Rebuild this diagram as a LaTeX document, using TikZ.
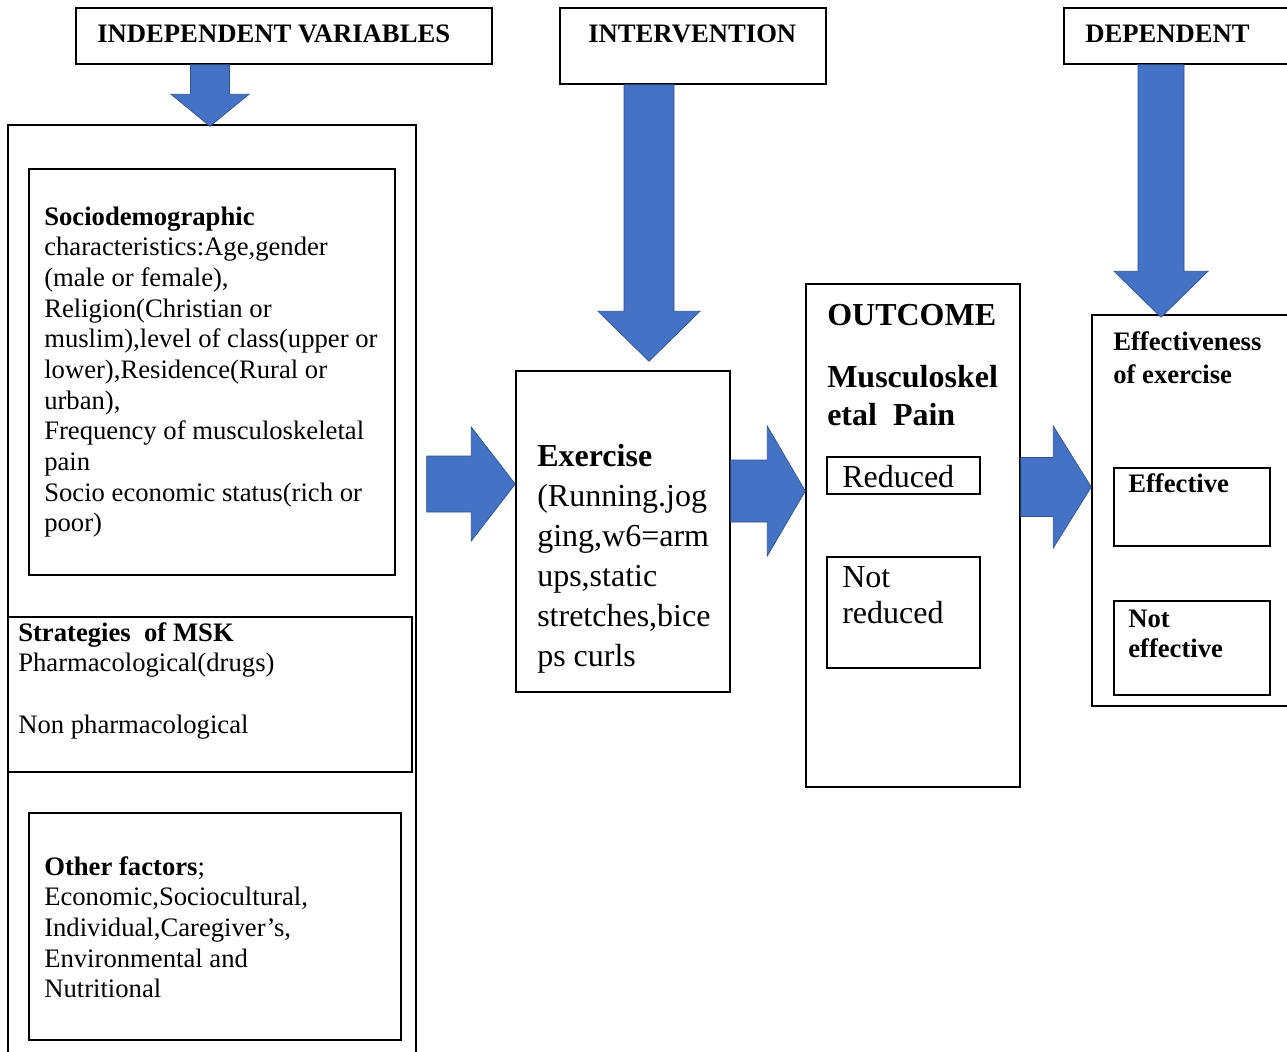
\documentclass[tikz,border=0pt]{standalone}
\usepackage{fontspec}
\setmainfont{Liberation Serif}
\usetikzlibrary{fit,calc}
\definecolor{arrowblue}{HTML}{4472C4}
\definecolor{arrowedge}{HTML}{2F528F}
\newcommand\fsz[2]{\fontsize{#1}{#2}\selectfont}
% block arrow pointing down: #1 start, #2 tip, #3 shaft half width, #4 head half width, #5 head length (px)
\newcommand\bdown[5]{%
  \filldraw[blockarrow] let \p1=(#1), \p2=(#2) in
  (\x1-#3*0.75pt,\y1) -- (\x1+#3*0.75pt,\y1) -- (\x1+#3*0.75pt,\y2+#5*0.75pt)
  -- (\x1+#4*0.75pt,\y2+#5*0.75pt) -- (\x1,\y2) -- (\x1-#4*0.75pt,\y2+#5*0.75pt)
  -- (\x1-#3*0.75pt,\y2+#5*0.75pt) -- cycle;}
% block arrow pointing right
\newcommand\bright[5]{%
  \filldraw[blockarrow] let \p1=(#1), \p2=(#2) in
  (\x1,\y1+#3*0.75pt) -- (\x2-#5*0.75pt,\y1+#3*0.75pt) -- (\x2-#5*0.75pt,\y1+#4*0.75pt)
  -- (\x2,\y1) -- (\x2-#5*0.75pt,\y1-#4*0.75pt) -- (\x2-#5*0.75pt,\y1-#3*0.75pt)
  -- (\x1,\y1-#3*0.75pt) -- cycle;}
\begin{document}
\begin{tikzpicture}[x=0.75pt,y=-0.75pt,
  box/.style={draw=black,line width=1.1pt,inner sep=0pt,fill=none},
  txt/.style={inner sep=0pt,align=left},
  blockarrow/.style={fill=arrowblue,draw=arrowedge,line width=0.5pt,line join=miter}]
\useasboundingbox[fill=white] (0,0) rectangle (1287,1051);

% boxes
\node[box,fit={(76,8) (492,64)}] (indhdr) {};
\node[box,fit={(560,8) (826,84)}] (inthdr) {};
\node[box,fit={(1064,8) (1300,64)}] (dephdr) {};
\node[box,fit={(8,125) (416,1065)}] (bigbox) {};
\node[box,fit={(29,169) (395,575)}] (sociobox) {};
\node[box,fit={(8,617) (412,772)}] (stratbox) {};
\node[box,fit={(29,813) (401,1040)}] (otherbox) {};
\node[box,fit={(516,371) (730,692)}] (exbox) {};
\node[box,fit={(806,284) (1020,787)}] (outbox) {};
\node[box,fit={(827,457) (980,494)}] (redbox) {};
\node[box,fit={(827,557) (980,668)}] (notredbox) {};
\node[box,fit={(1092,315) (1300,706)}] (effbox) {};
\node[box,fit={(1114,468) (1270,546)}] (effyes) {};
\node[box,fit={(1114,601) (1270,695)}] (effno) {};

% texts
\node[txt,anchor=base west,font=\fsz{20}{23}\bfseries] (indtxt) at (97,42) {INDEPENDENT VARIABLES};
\node[txt,anchor=base west,font=\fsz{20}{23}\bfseries] (inttxt) at (588,42) {INTERVENTION};
\node[txt,anchor=base west,font=\fsz{20}{23}\bfseries] (deptxt) at (1085,42) {DEPENDENT};

\node[txt,anchor=north west,font=\fsz{20}{23}] (sociotxt) at (44,203.5)
 {\strut\textbf{Sociodemographic}\\
  characteristics:Age,gender\\
  (male or female),\\
  Religion(Christian or\\
  muslim),level of class(upper or\\
  lower),Residence(Rural or\\
  urban),\\
  Frequency of musculoskeletal\\
  pain\\
  Socio economic status(rich or\\
  poor)};

\node[txt,anchor=north west,font=\fsz{20}{23}] (strattxt) at (18,619.5)
 {\strut\textbf{Strategies\ \ of MSK}\\
  Pharmacological(drugs)\\
  \strut\\
  Non pharmacological};

\node[txt,anchor=north west,font=\fsz{20}{23}] (othertxt) at (44,853.5)
 {\strut\textbf{Other factors};\\
  Economic,Sociocultural,\\
  Individual,Caregiver's,\\
  Environmental and\\
  Nutritional};

\node[txt,anchor=north west,font=\fsz{24}{30}] (extxt) at (537,438)
 {\strut\textbf{Exercise}\\
  (Running.jog\\
  ging,w6=arm\\
  ups,static\\
  stretches,bice\\
  ps curls};

\node[txt,anchor=base west,font=\fsz{24}{28.5}\bfseries] (outtxt) at (827,325) {OUTCOME};
\node[txt,anchor=north west,font=\fsz{24}{28.5}\bfseries] (musctxt) at (827,360.4)
 {\strut Musculoskel\\etal\ \ Pain};
\node[txt,anchor=base west,font=\fsz{24}{27}] (redtxt) at (842,487) {Reduced};
\node[txt,anchor=north west,font=\fsz{24}{27}] (notredtxt) at (842,562.5) {\strut Not\\reduced};
\node[txt,anchor=north west,font=\fsz{20}{24.75}\bfseries] (efftxt) at (1113,326.9)
 {\strut Effectiveness\\of exercise};
\node[txt,anchor=base west,font=\fsz{20}{22.5}\bfseries] (effyestxt) at (1128,492) {Effective};
\node[txt,anchor=north west,font=\fsz{20}{22.5}\bfseries] (effnotxt) at (1128,606.5) {\strut Not\\effective};

% arrow guide coordinates
\coordinate (ax1) at (210,0);
\coordinate (ax2) at (649,0);
\coordinate (ax3) at (1161,0);
\coordinate (ay1) at (0,484);
\coordinate (ay2) at (0,491);
\coordinate (ay3) at (0,487);

% block arrows
\bdown{indhdr.south -| ax1}{$(bigbox.north -| ax1)+(0,2)$}{19.5}{39}{32}
\bdown{inthdr.south -| ax2}{$(exbox.north -| ax2)+(0,-9)$}{25}{51}{50}
\bdown{dephdr.south -| ax3}{$(effbox.north -| ax3)+(0,3)$}{23}{47}{46}
\bright{$(bigbox.east |- ay1)+(10,0)$}{exbox.west |- ay1}{28}{57}{44}
\bright{exbox.east |- ay2}{outbox.west |- ay2}{31}{65}{38}
\bright{outbox.east |- ay3}{effbox.west |- ay3}{29.5}{61}{38}
\end{tikzpicture}
\end{document}
